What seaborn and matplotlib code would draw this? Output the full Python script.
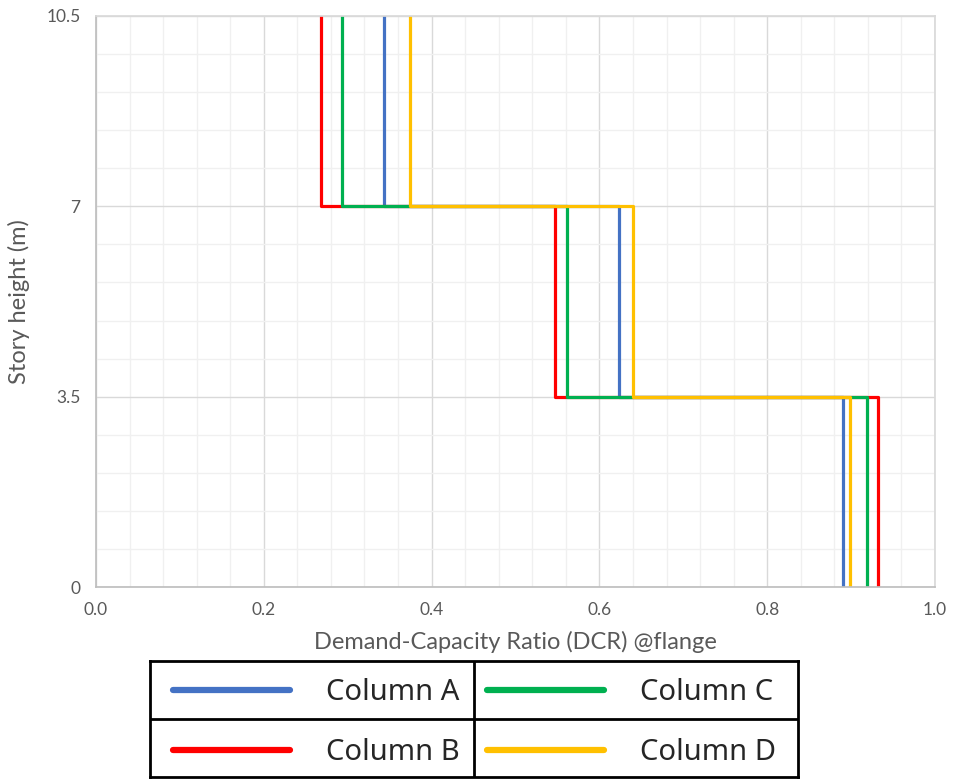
import numpy as np
import pandas as pd
import seaborn as sns
import matplotlib.pyplot as plt
from matplotlib.lines import Line2D

# story boundaries (m) and DCR per story (1st, 2nd, 3rd)
story_levels = [0, 3.5, 7, 10.5]
columns = ["Column A", "Column B", "Column C", "Column D"]
dcr_a = [0.890, 0.623, 0.343]
dcr_b = [0.932, 0.547, 0.268]
dcr_c = [0.919, 0.561, 0.293]
dcr_d = [0.899, 0.640, 0.374]
colors = ["#4472C4", "#FF0000", "#00B050", "#FFC000"]

x_ticks = [0.0, 0.2, 0.4, 0.6, 0.8, 1.0]
x_ticklabels = ["0.0", "0.2", "0.4", "0.6", "0.8", "1.0"]
y_ticks = [0, 3.5, 7, 10.5]
y_ticklabels = ["0", "3.5", "7", "10.5"]

# step profile: each story is a vertical segment
rows = []
for name, vals in zip(columns, [dcr_a, dcr_b, dcr_c, dcr_d]):
    for i, v in enumerate(vals):
        rows.append((name, v, story_levels[i]))
        rows.append((name, v, story_levels[i + 1]))
df = pd.DataFrame(rows, columns=["column", "dcr", "height"])

sns.set_theme(style="white")
plt.rcParams["font.family"] = ["Lato", "DejaVu Sans"]

fig = plt.figure(figsize=(9.54, 7.80), dpi=100)
ax = fig.add_axes([96 / 954, 1 - 587 / 780, (935 - 96) / 954, (587 - 16) / 780])

sns.lineplot(data=df, x="dcr", y="height", hue="column", palette=colors,
             sort=False, estimator=None, linewidth=2.3, legend=False, ax=ax)

ax.set_xlim(0, 1.0)
ax.set_ylim(0, 10.5)
ax.set_xticks(x_ticks)
ax.set_xticklabels(x_ticklabels)
ax.set_yticks(y_ticks)
ax.set_yticklabels(y_ticklabels)
ax.set_xticks(np.arange(0, 1.0001, 0.04), minor=True)
ax.set_yticks(np.arange(0, 10.5001, 0.7), minor=True)
ax.grid(which="major", color="#D9D9D9", linewidth=1.0)
ax.grid(which="minor", color="#F0F0F0", linewidth=1.0)
ax.set_axisbelow(True)
ax.tick_params(which="major", length=5, width=1, color="#BFBFBF",
               labelcolor="#595959", labelsize=12.5, pad=6)
ax.tick_params(which="minor", length=0)
for s in ["left", "bottom"]:
    ax.spines[s].set_color("#BFBFBF")
for s in ["top", "right"]:
    ax.spines[s].set_color("#D9D9D9")
ax.set_xlabel("Demand-Capacity Ratio (DCR) @flange", fontsize=17, color="#595959", labelpad=9)
ax.set_ylabel("Story height (m)", fontsize=17, color="#595959", labelpad=12)

# legend as a boxed 2x2 table
lx0, lx1, ly0, ly1 = 150 / 954, 798 / 954, 1 - 777 / 780, 1 - 661 / 780
leg_ax = fig.add_axes([lx0, ly0, lx1 - lx0, ly1 - ly0])
leg_ax.set_xticks([])
leg_ax.set_yticks([])
for s in leg_ax.spines.values():
    s.set_color("black")
    s.set_linewidth(2)
leg_ax.axhline(0.5, color="black", linewidth=2)
leg_ax.axvline(0.5, color="black", linewidth=2)
handles = [Line2D([], [], color=c, linewidth=4.5) for c in colors]
leg_kw = dict(loc="center left", frameon=False, handlelength=4.0,
              handletextpad=1.25, labelspacing=1.05, borderaxespad=0, borderpad=0,
              prop={"family": ["Noto Sans", "DejaVu Sans"], "size": 21})
leg1 = leg_ax.legend(handles[:2], columns[:2], bbox_to_anchor=(0.036, -0.03, 0.46, 1), **leg_kw)
leg_ax.add_artist(leg1)
leg_ax.legend(handles[2:], columns[2:], bbox_to_anchor=(0.52, -0.03, 0.46, 1), **leg_kw)

fig.savefig("out.png", dpi=100)
